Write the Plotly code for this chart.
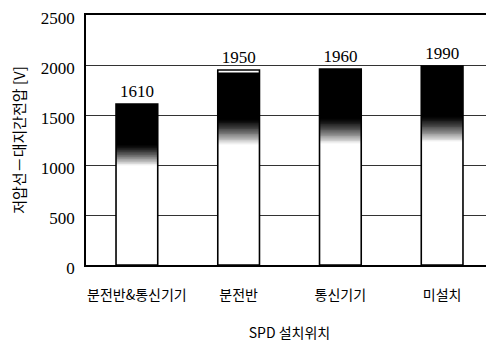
import plotly.graph_objects as go

categories = ["분전반&통신기기", "분전반", "통신기기", "미설치"]
values = [1610, 1950, 1960, 1990]
y_ticks = [0, 500, 1000, 1500, 2000, 2500]

# styling of the shaded bars (fractions of each bar's height)
grad_start = 0.62   # bottom of the shaded zone
black_start = 0.75  # bottom of the solid black zone
top_gap = [0, 25, 0, 0]  # thin white strip at the top of a bar
n_seg = 30
bar_w = 0.41

fig = go.Figure()

# white lower part
fig.add_trace(go.Bar(
    x=categories, y=[v * grad_start for v in values], base=[0] * 4,
    width=bar_w, marker=dict(color="white", line=dict(width=0)),
    hoverinfo="skip", showlegend=False))

# gradient segments
for k in range(n_seg):
    t0 = k / n_seg
    t1 = (k + 1) / n_seg
    tm = (t0 + t1) / 2
    g = int(round(255 * (1 - tm) ** 1.3))
    bases = [v * (grad_start + (black_start - grad_start) * t0) for v in values]
    heights = [v * (black_start - grad_start) / n_seg + 0.5 for v in values]
    fig.add_trace(go.Bar(
        x=categories, y=heights, base=bases, width=bar_w,
        marker=dict(color=f"rgb({g},{g},{g})", line=dict(width=0)),
        hoverinfo="skip", showlegend=False))

# solid black top part
fig.add_trace(go.Bar(
    x=categories,
    y=[v - gap - v * black_start for v, gap in zip(values, top_gap)],
    base=[v * black_start for v in values], width=bar_w,
    marker=dict(color="black", line=dict(width=0)),
    hoverinfo="skip", showlegend=False))

# outline + value labels
fig.add_trace(go.Bar(
    x=categories, y=values, base=[0] * 4, width=bar_w,
    marker=dict(color="rgba(0,0,0,0)", line=dict(color="black", width=1.6)),
    text=[str(v) for v in values], textposition="outside",
    constraintext="none",
    textfont=dict(family="Liberation Serif", size=17, color="black"),
    cliponaxis=False, showlegend=False))

# the page body adds an 8px offset; size the figure so the plot lands in place
fig.update_layout(
    barmode="overlay",
    width=486, height=334,
    margin=dict(l=78, r=1, t=7, b=77),
    paper_bgcolor="white", plot_bgcolor="white",
    font=dict(family="Noto Sans CJK KR", color="black"),
    xaxis=dict(
        type="category", range=[-0.5, 3.5], automargin=False,
        showline=True, linecolor="black", linewidth=2, mirror=True,
        ticks="", ticklabelstandoff=16,
        tickfont=dict(family="Noto Sans CJK KR", size=14, color="black"),
        title=dict(text="SPD 설치위치", standoff=25,
                   font=dict(family="Noto Sans CJK KR", size=14, color="black")),
    ),
    yaxis=dict(
        range=[0, 2500.5], tickvals=y_ticks, automargin=False,
        showline=True, linecolor="black", linewidth=1.6, mirror=True,
        showgrid=True, gridcolor="#333333", gridwidth=1,
        ticks="", ticklabelstandoff=6, ticklabelshift=3,
        ticklabeloverflow="allow",
        tickfont=dict(family="Liberation Serif", size=17, color="black"),
        title=dict(text="저압선－대지간전압 [V]", standoff=15,
                   font=dict(family="Noto Sans CJK KR", size=15, color="black")),
    ),
)

fig.write_html("out.html")
